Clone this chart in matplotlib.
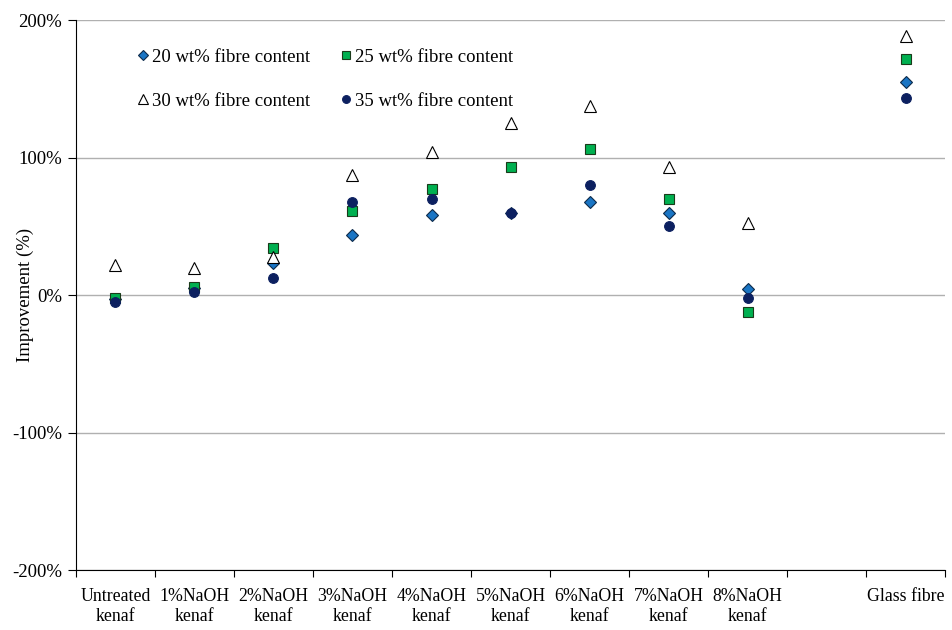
import matplotlib
matplotlib.use("Agg")
import matplotlib.pyplot as plt
import numpy as np

plt.rcParams['font.family'] = ['Liberation Serif', 'DejaVu Serif']

categories = ["Untreated\nkenaf", "1%NaOH\nkenaf", "2%NaOH\nkenaf", "3%NaOH\nkenaf",
              "4%NaOH\nkenaf", "5%NaOH\nkenaf", "6%NaOH\nkenaf", "7%NaOH\nkenaf",
              "8%NaOH\nkenaf", "", "Glass fibre"]

# Improvement (%) per fibre content; None where no sample
wt20 = [-3, 5, 23, 44, 58, 60, 68, 60, 4.6, None, 155]
wt25 = [-2, 6, 34, 61, 77, 93, 106, 70, -12.4, None, 172]
wt30 = [22, 20, 28, 87, 104, 125, 137.5, 93, 52.6, None, 188.6]
wt35 = [-4.8, 2.4, 12.6, 68, 69.6, 60, 80, 50, -2, None, 143]

yticks = [-200, -100, 0, 100, 200]
ytick_labels = ["-200%", "-100%", "0%", "100%", "200%"]

FS = 13.5
FS_X = 12.8

fig = plt.figure(figsize=(9.53, 6.30), dpi=100)
ax = fig.add_axes([0.0797, 0.0952, 0.912, 0.873])

x = np.arange(len(categories))

def series(vals):
    xs = [xi for xi, v in zip(x, vals) if v is not None]
    ys = [v for v in vals if v is not None]
    return xs, ys

styles = [
    (wt20, "D", "#1a75c4", "#0d2a4a", 6.5, "20 wt% fibre content"),
    (wt25, "s", "#00b050", "#1a3a1a", 7, "25 wt% fibre content"),
    (wt30, "^", "white", "black", 8.5, "30 wt% fibre content"),
    (wt35, "o", "#0c2060", "#0c2060", 7, "35 wt% fibre content"),
]
handles = {}
for vals, m, fc, ec, ms, lab in styles:
    xs, ys = series(vals)
    h, = ax.plot(xs, ys, linestyle="none", marker=m, markerfacecolor=fc,
                 markeredgecolor=ec, markeredgewidth=0.8, markersize=ms,
                 label=lab, zorder=3)
    handles[lab] = h

ax.set_xlim(-0.5, len(categories) - 0.5)
ax.set_ylim(-200, 200)
ax.set_yticks(yticks)
ax.set_yticklabels(ytick_labels, fontsize=FS)
ax.yaxis.grid(True, color="#b0b0b0", linewidth=1)
ax.set_axisbelow(True)

# tick marks between categories, labels centred on categories
ax.set_xticks(np.arange(len(categories) + 1) - 0.5)
ax.set_xticklabels([])
ax.set_xticks(x, minor=True)
ax.set_xticklabels(categories, minor=True, fontsize=FS_X, linespacing=1.25)
ax.tick_params(axis="x", which="minor", length=0, pad=13)
ax.tick_params(axis="x", which="major", length=5, direction="out", color="black")
ax.tick_params(axis="y", length=6, direction="out", pad=4)

for s in ["top", "right"]:
    ax.spines[s].set_visible(False)
ax.spines["left"].set_color("black")
ax.spines["bottom"].set_color("black")

ax.set_ylabel("Improvement (%)", fontsize=FS)
ax.yaxis.set_label_coords(-0.048, 0.5)

# row-major legend: 20 | 25 on the first row, 30 | 35 on the second
order = ["20 wt% fibre content", "30 wt% fibre content",
         "25 wt% fibre content", "35 wt% fibre content"]
leg = ax.legend([handles[k] for k in order], order, ncol=2, frameon=False,
                loc="upper left", bbox_to_anchor=(0.048, 0.979), fontsize=FS,
                handletextpad=0.05, columnspacing=1.45, labelspacing=1.45,
                handlelength=0.9, markerscale=0.8)

fig.savefig("out.png", dpi=100)
